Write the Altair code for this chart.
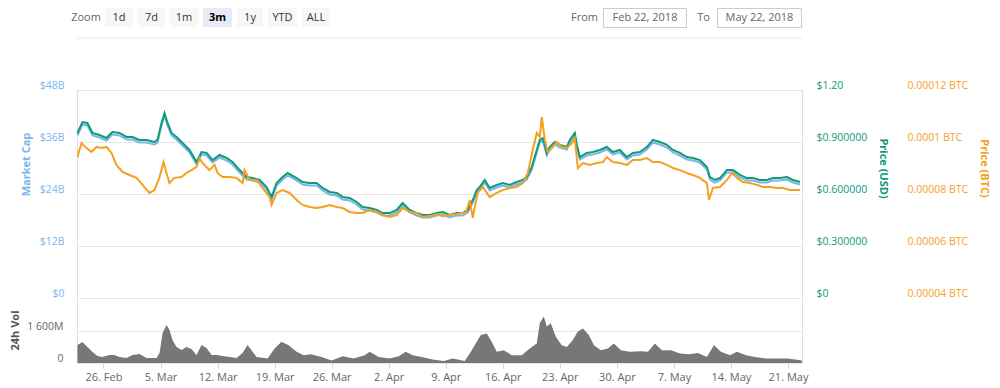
import altair as alt
import pandas as pd

# ---------------- data ----------------
START = pd.Timestamp("2018-02-22 00:00")

# USD price / market cap series: days after 2018-02-22 00:00
usd_days = [
    0.81, 1.42, 2.03, 2.65, 3.49, 4.37, 5.09, 5.96, 6.82, 7.56,
    8.42, 9.28, 10.26, 10.63, 11.12, 11.49, 11.86, 12.35, 12.96, 13.70,
    14.56, 15.42, 16.03, 16.65, 17.39, 18.25, 19.10, 19.84, 20.70, 21.56,
    22.30, 23.16, 24.02, 24.63, 25.24, 25.98, 26.60, 27.70, 28.44, 29.30,
    30.16, 30.90, 31.75, 32.61, 33.35, 34.21, 35.07, 35.81, 36.67, 37.53,
    38.26, 39.12, 39.98, 40.71, 41.57, 42.43, 43.17, 44.03, 44.89, 45.63,
    46.49, 47.35, 48.08, 48.70, 49.32, 49.80, 50.17, 50.78, 51.40, 52.26,
    52.99, 53.85, 54.71, 55.45, 55.94, 56.56, 57.17, 57.54, 57.91, 58.40,
    58.77, 59.38, 60.00, 60.86, 61.23, 61.84, 62.09, 62.46, 63.31, 64.05,
    64.91, 65.77, 66.51, 67.37, 68.23, 68.96, 69.82, 70.68, 71.42, 72.28,
    73.14, 73.88, 74.74, 75.60, 76.33, 77.19, 78.05, 78.42, 79.03, 79.65,
    80.51, 81.24, 82.10, 82.96, 83.70, 84.56, 85.42, 86.15, 87.01, 87.87,
    88.61, 89.47,
]
usd_price = [
    0.952, 1.015, 1.010, 0.952, 0.940, 0.923, 0.958, 0.952, 0.929, 0.929,
    0.912, 0.912, 0.900, 0.912, 1.010, 1.067, 1.010, 0.952, 0.929, 0.894,
    0.854, 0.785, 0.842, 0.837, 0.796, 0.825, 0.808, 0.785, 0.738, 0.698,
    0.692, 0.681, 0.640, 0.583, 0.663, 0.698, 0.721, 0.692, 0.669, 0.663,
    0.663, 0.635, 0.612, 0.606, 0.583, 0.577, 0.554, 0.525, 0.519, 0.508,
    0.490, 0.490, 0.508, 0.548, 0.508, 0.490, 0.479, 0.479, 0.490, 0.496,
    0.479, 0.490, 0.490, 0.508, 0.565, 0.623, 0.640, 0.681, 0.635, 0.652,
    0.663, 0.652, 0.669, 0.681, 0.698, 0.756, 0.854, 0.912, 0.923, 0.837,
    0.871, 0.900, 0.883, 0.871, 0.912, 0.952, 0.883, 0.813, 0.837, 0.842,
    0.854, 0.871, 0.842, 0.854, 0.813, 0.837, 0.842, 0.871, 0.912, 0.900,
    0.883, 0.854, 0.837, 0.813, 0.808, 0.796, 0.756, 0.698, 0.681, 0.692,
    0.738, 0.738, 0.710, 0.692, 0.692, 0.681, 0.681, 0.692, 0.692, 0.698,
    0.681, 0.669,
]
# market cap in billions USD
market_cap_b = [
    37.50, 40.04, 39.81, 37.50, 37.04, 36.35, 37.73, 37.50, 36.58, 36.58,
    35.88, 35.88, 35.42, 35.88, 39.81, 42.12, 39.81, 37.50, 36.58, 35.19,
    33.58, 30.81, 33.12, 32.88, 31.27, 32.42, 31.73, 30.81, 28.96, 27.35,
    27.12, 26.65, 25.04, 22.73, 25.96, 27.35, 28.27, 27.12, 26.19, 25.96,
    25.96, 24.81, 23.88, 23.65, 22.73, 22.50, 21.58, 20.42, 20.19, 19.73,
    19.04, 19.04, 19.73, 21.35, 19.73, 19.04, 18.58, 18.58, 19.04, 19.27,
    18.58, 19.04, 19.04, 19.73, 22.04, 24.35, 25.04, 26.65, 24.81, 25.50,
    25.96, 25.50, 26.19, 26.65, 27.35, 29.65, 33.58, 35.88, 36.35, 32.88,
    34.27, 35.42, 34.73, 34.27, 35.88, 37.50, 34.73, 31.96, 32.88, 33.12,
    33.58, 34.27, 33.12, 33.58, 31.96, 32.88, 33.12, 34.27, 35.88, 35.42,
    34.73, 33.58, 32.88, 31.96, 31.73, 31.27, 29.65, 27.35, 26.65, 27.12,
    28.96, 28.96, 27.81, 27.12, 27.12, 26.65, 26.65, 27.12, 27.12, 27.35,
    26.65, 26.19,
]

# BTC price series
btc_days = [
    0.81, 1.30, 1.91, 2.53, 3.14, 3.75, 4.37, 4.98, 5.59, 6.33,
    7.19, 8.05, 8.79, 9.65, 10.26, 10.88, 11.37, 11.73, 12.10, 12.71,
    13.57, 14.19, 14.80, 15.42, 15.79, 16.15, 17.01, 17.63, 18.00, 18.61,
    19.47, 20.33, 21.07, 21.31, 21.93, 22.79, 23.52, 24.38, 24.63, 25.24,
    25.98, 26.84, 27.70, 28.44, 29.30, 30.16, 30.90, 31.75, 32.61, 33.35,
    34.21, 35.07, 35.81, 36.67, 37.53, 38.26, 39.12, 39.98, 40.71, 41.57,
    42.43, 43.17, 44.03, 44.89, 45.63, 46.49, 47.35, 48.08, 48.45, 48.95,
    49.32, 49.56, 49.93, 50.54, 51.40, 52.26, 52.99, 53.85, 54.71, 55.45,
    56.07, 56.68, 57.17, 57.54, 57.79, 58.16, 58.52, 59.01, 59.63, 60.24,
    60.86, 61.47, 61.84, 62.21, 62.83, 63.68, 64.54, 65.28, 65.77, 66.51,
    67.37, 68.23, 68.96, 69.82, 70.68, 71.42, 72.28, 73.14, 73.88, 74.74,
    75.60, 76.33, 77.19, 78.05, 78.30, 78.79, 79.65, 80.51, 81.12, 81.74,
    82.47, 83.33, 84.19, 84.93, 85.79, 86.64, 87.38, 88.24, 89.10, 89.47,
]
btc_price = [
    9.42e-5, 9.96e-5, 9.77e-5, 9.62e-5, 9.81e-5, 9.77e-5, 9.81e-5, 9.58e-5, 9.12e-5, 8.85e-5,
    8.73e-5, 8.62e-5, 8.35e-5, 8.04e-5, 8.15e-5, 8.65e-5, 9.23e-5, 8.81e-5, 8.42e-5, 8.62e-5,
    8.65e-5, 8.81e-5, 8.92e-5, 9.04e-5, 9.38e-5, 9.19e-5, 8.92e-5, 9.12e-5, 8.81e-5, 8.65e-5,
    8.65e-5, 8.62e-5, 8.42e-5, 8.92e-5, 8.54e-5, 8.54e-5, 8.23e-5, 7.88e-5, 7.58e-5, 8.04e-5,
    8.15e-5, 8.04e-5, 7.77e-5, 7.58e-5, 7.50e-5, 7.46e-5, 7.50e-5, 7.58e-5, 7.50e-5, 7.46e-5,
    7.31e-5, 7.27e-5, 7.27e-5, 7.38e-5, 7.31e-5, 7.19e-5, 7.12e-5, 7.19e-5, 7.46e-5, 7.31e-5,
    7.27e-5, 7.12e-5, 7.15e-5, 7.23e-5, 7.15e-5, 7.19e-5, 7.23e-5, 7.27e-5, 7.27e-5, 7.77e-5,
    7.08e-5, 7.50e-5, 8.04e-5, 8.27e-5, 7.88e-5, 8.04e-5, 8.15e-5, 8.23e-5, 8.27e-5, 8.42e-5,
    8.81e-5, 9.69e-5, 10.35e-5, 10.19e-5, 10.96e-5, 10.08e-5, 9.62e-5, 9.77e-5, 10.00e-5, 9.81e-5,
    9.77e-5, 9.96e-5, 10.15e-5, 9.00e-5, 9.19e-5, 9.12e-5, 9.19e-5, 9.23e-5, 9.42e-5, 9.23e-5,
    9.19e-5, 9.12e-5, 9.31e-5, 9.31e-5, 9.38e-5, 9.23e-5, 9.23e-5, 9.12e-5, 9.00e-5, 8.92e-5,
    8.81e-5, 8.73e-5, 8.62e-5, 8.42e-5, 7.77e-5, 8.23e-5, 8.27e-5, 8.54e-5, 8.81e-5, 8.62e-5,
    8.46e-5, 8.42e-5, 8.35e-5, 8.27e-5, 8.27e-5, 8.23e-5, 8.23e-5, 8.15e-5, 8.15e-5, 8.15e-5,
]

# 24h volume (millions USD)
vol_days = [
    0.81, 1.42, 2.03, 2.65, 3.26, 3.88, 4.74, 5.35, 5.96, 6.82,
    7.56, 8.42, 9.28, 10.51, 10.88, 11.25, 11.73, 12.10, 12.47, 12.96,
    13.58, 14.19, 14.80, 15.42, 16.03, 16.65, 17.26, 17.88, 18.61, 19.47,
    20.33, 21.07, 21.68, 22.79, 24.14, 25.00, 25.85, 26.72, 27.70, 28.56,
    29.42, 30.77, 32.00, 33.35, 34.70, 36.05, 36.67, 37.77, 39.12, 40.23,
    41.09, 41.95, 43.06, 44.40, 45.75, 46.86, 48.33, 48.95, 49.68, 50.30,
    51.03, 51.64, 52.26, 53.12, 54.10, 55.33, 56.31, 57.17, 57.54, 58.03,
    58.40, 58.89, 59.51, 60.24, 60.86, 61.60, 62.21, 62.83, 63.56, 64.18,
    65.04, 65.90, 66.63, 67.49, 68.60, 69.95, 70.81, 71.67, 72.53, 73.63,
    74.74, 75.84, 76.94, 78.05, 78.91, 79.77, 80.88, 81.74, 82.84, 83.94,
    85.30, 86.65, 88.00, 89.70,
]
vol_m = [
    900, 1050, 800, 550, 350, 300, 400, 400, 300, 250,
    400, 450, 250, 250, 500, 1500, 1900, 1650, 1150, 800,
    650, 800, 700, 400, 900, 750, 400, 400, 350, 300,
    250, 500, 900, 300, 220, 720, 1060, 890, 560, 390,
    440, 300, 130, 340, 220, 390, 560, 300, 220, 340,
    560, 390, 300, 170, 100, 220, 100, 470, 980, 1400,
    1480, 1060, 560, 640, 390, 390, 720, 980, 1990, 2320,
    1820, 1990, 1310, 890, 800, 1150, 1570, 1730, 1400, 890,
    640, 720, 980, 640, 560, 590, 560, 980, 640, 640,
    470, 440, 500, 300, 890, 560, 390, 560, 390, 300,
    220, 220, 220, 130,
]

# axis ticks and labels
mcap_ticks = [0, 12, 24, 36, 48]
mcap_labels = ["$0", "$12B", "$24B", "$36B", "$48B"]
usd_ticks = [0, 0.3, 0.6, 0.9, 1.2]
usd_labels = ["$0", "$0.300000", "$0.600000", "$0.900000", "$1.20"]
btc_ticks = [4e-5, 6e-5, 8e-5, 10e-5, 12e-5]
btc_labels = ["0.00004 BTC", "0.00006 BTC", "0.00008 BTC", "0.0001 BTC", "0.00012 BTC"]
vol_ticks = [0, 1600]
vol_labels = ["0", "1 600M"]
x_tick_dates = [(2, 26), (3, 5), (3, 12), (3, 19), (3, 26), (4, 2), (4, 9),
                (4, 16), (4, 23), (4, 30), (5, 7), (5, 14), (5, 21)]

zoom_buttons = ["1d", "7d", "1m", "3m", "1y", "YTD", "ALL"]
selected_button = "3m"
date_from = "Feb 22, 2018"
date_to = "May 22, 2018"

# ---------------- build ----------------
def to_dates(days):
    return [START + pd.Timedelta(days=d) for d in days]

price_df = pd.DataFrame({"date": to_dates(usd_days), "usd": usd_price, "mcap": market_cap_b})
btc_df = pd.DataFrame({"date": to_dates(btc_days), "btc": btc_price})
vol_df = pd.DataFrame({"date": to_dates(vol_days), "vol": vol_m})

FONT = "Open Sans"
BLUE = "#7cb5ec"
GREEN = "#0f9a78"
ORANGE = "#f5a01e"
GREY = "#777777"
GRID = "#e6e6e6"

W, H = 725, 273          # plot area (page x 77..802, y 90..363)
OX, OY = 77, 90          # page position of the view origin


def label_expr(values, labels, tol):
    s = ""
    for v, l in zip(values, labels):
        s += f"abs(datum.value - ({v!r})) < {tol} ? '{l}' : "
    return s + "''"


x_axis = alt.Axis(
    values=[alt.DateTime(year=2018, month=m, date=d) for m, d in x_tick_dates],
    format="%-d. %b", labelFont=FONT, labelFontSize=11, labelColor="#666666",
    tickColor="#ccd6eb", tickSize=5, domain=False, grid=False, labelPadding=3,
    labelOverlap=False, labelFlush=False, title=None,
)
x_scale = alt.Scale(domain=[alt.DateTime(year=2018, month=2, date=22, hours=18),
                            alt.DateTime(year=2018, month=5, date=22, hours=17, minutes=15)])
X = alt.X("date:T", scale=x_scale, axis=x_axis)

vol_layer = alt.Chart(vol_df).mark_area(color=GREY, opacity=1, interpolate="linear").encode(
    x=X,
    y=alt.Y("vol:Q", scale=alt.Scale(domain=[0, 3300], range=[273, 207], nice=False, zero=True),
            axis=alt.Axis(orient="left", values=vol_ticks,
                          labelExpr=label_expr(vol_ticks, vol_labels, 1),
                          grid=True, gridColor=GRID, ticks=False, domain=False,
                          labelFont=FONT, labelFontSize=10.5, labelColor="#666666",
                          labelPadding=14, labelOffset=-5, labelOverlap=False,
                          title="24h Vol", titleFont=FONT, titleFontSize=11,
                          titleColor="#555555", titleFontWeight="bold",
                          titleX=15 - OX, titleY=330 - OY, titleAngle=270,
                          titleAlign="center", titleBaseline="middle")),
)

mcap_layer = alt.Chart(price_df).mark_line(color=BLUE, strokeWidth=2).encode(
    x=X,
    y=alt.Y("mcap:Q", scale=alt.Scale(domain=[0, 48], range=[208, 0], nice=False),
            axis=alt.Axis(orient="left", values=mcap_ticks,
                          labelExpr=label_expr(mcap_ticks, mcap_labels, 0.5),
                          grid=True, gridColor=GRID, ticks=False, domain=False,
                          labelFont=FONT, labelFontSize=10.5, labelColor=BLUE,
                          labelPadding=13, labelOffset=-5, labelOverlap=False,
                          title="Market Cap", titleFont=FONT, titleFontSize=11,
                          titleColor=BLUE, titleFontWeight="bold",
                          titleX=26 - OX, titleY=164 - OY, titleAngle=270,
                          titleAlign="center", titleBaseline="middle")),
)

usd_layer = alt.Chart(price_df).mark_line(color=GREEN, strokeWidth=2).encode(
    x=X,
    y=alt.Y("usd:Q", scale=alt.Scale(domain=[0, 1.2], range=[208, 0], nice=False),
            axis=alt.Axis(orient="right", values=usd_ticks,
                          labelExpr=label_expr(usd_ticks, usd_labels, 0.01),
                          grid=False, ticks=False, domain=False,
                          labelFont=FONT, labelFontSize=10.5, labelColor=GREEN,
                          labelPadding=14, labelOffset=-5, labelOverlap=False,
                          title="Price (USD)", titleFont=FONT, titleFontSize=11,
                          titleColor=GREEN, titleFontWeight="bold",
                          titleX=882 - OX - W, titleY=168 - OY, titleAngle=90,
                          titleAlign="center", titleBaseline="middle")),
)

btc_layer = alt.Chart(btc_df).mark_line(color=ORANGE, strokeWidth=2).encode(
    x=X,
    y=alt.Y("btc:Q", scale=alt.Scale(domain=[4e-5, 12e-5], range=[208, 0], nice=False, zero=False),
            axis=alt.Axis(orient="right", values=btc_ticks,
                          labelExpr=label_expr(btc_ticks, btc_labels, 1e-7),
                          grid=False, ticks=False, domain=False,
                          labelFont=FONT, labelFontSize=10.5, labelColor=ORANGE,
                          labelPadding=105, labelOffset=-5, labelOverlap=False,
                          title="Price (BTC)", titleFont=FONT, titleFontSize=11,
                          titleColor=ORANGE, titleFontWeight="bold",
                          titleX=983 - OX - W, titleY=168 - OY, titleAngle=90,
                          titleAlign="center", titleBaseline="middle")),
)

# ---------------- range-selector decoration ----------------
one = alt.Data(values=[{"k": 0}])
ui = []

ui.append(alt.Chart(one).mark_rule(color="#e6e6e6", strokeWidth=1).encode(
    x=alt.value(0), x2=alt.value(W), y=alt.value(38 - OY)))

ui.append(alt.Chart(one).mark_text(font=FONT, fontSize=11, color="#666666",
                                   align="center", baseline="middle").encode(
    x=alt.value(86 - OX), y=alt.value(17.5 - OY), text=alt.value("Zoom")))

btn_x0 = [105, 138, 170, 203, 237, 268, 302]
btn_x1 = [133, 165, 198, 232, 263, 297, 330]
for lab, a, b in zip(zoom_buttons, btn_x0, btn_x1):
    sel = lab == selected_button
    ui.append(alt.Chart(one).mark_rect(fill="#e6ebf5" if sel else "#f7f7f7").encode(
        x=alt.value(a - OX), x2=alt.value(b - OX),
        y=alt.value(8 - OY), y2=alt.value(27 - OY)))
    ui.append(alt.Chart(one).mark_text(font=FONT, fontSize=11,
                                       fontWeight="bold" if sel else "normal",
                                       color="#000000" if sel else "#333333",
                                       align="center", baseline="middle").encode(
        x=alt.value((a + b) / 2 - OX), y=alt.value(17.5 - OY), text=alt.value(lab)))

ui.append(alt.Chart(one).mark_text(font=FONT, fontSize=11, color="#666666",
                                   align="right", baseline="middle").encode(
    x=alt.value(598 - OX), y=alt.value(17.5 - OY), text=alt.value("From")))
ui.append(alt.Chart(one).mark_text(font=FONT, fontSize=11, color="#666666",
                                   align="center", baseline="middle").encode(
    x=alt.value(703.5 - OX), y=alt.value(17.5 - OY), text=alt.value("To")))
for txt, a, b in [(date_from, 603, 687), (date_to, 717, 802)]:
    ui.append(alt.Chart(one).mark_rect(fill="#ffffff", stroke="#cccccc", strokeWidth=1).encode(
        x=alt.value(a - OX + 0.5), x2=alt.value(b - OX - 0.5),
        y=alt.value(8.5 - OY), y2=alt.value(27.5 - OY)))
    ui.append(alt.Chart(one).mark_text(font=FONT, fontSize=11, color="#666666",
                                       align="center", baseline="middle").encode(
        x=alt.value((a + b) / 2 - OX), y=alt.value(17.5 - OY), text=alt.value(txt)))

chart = alt.layer(vol_layer, mcap_layer, usd_layer, btc_layer, *ui).resolve_scale(
    y="independent"
).properties(
    width=W, height=H,
    autosize=alt.AutoSizeParams(type="none"),
    padding={"left": OX - 8, "top": OY - 8, "right": 190, "bottom": 25},
).configure_view(stroke=None).configure(font=FONT, background="#ffffff")

chart.save("out.html", embed_options={"renderer": "svg", "actions": False})
